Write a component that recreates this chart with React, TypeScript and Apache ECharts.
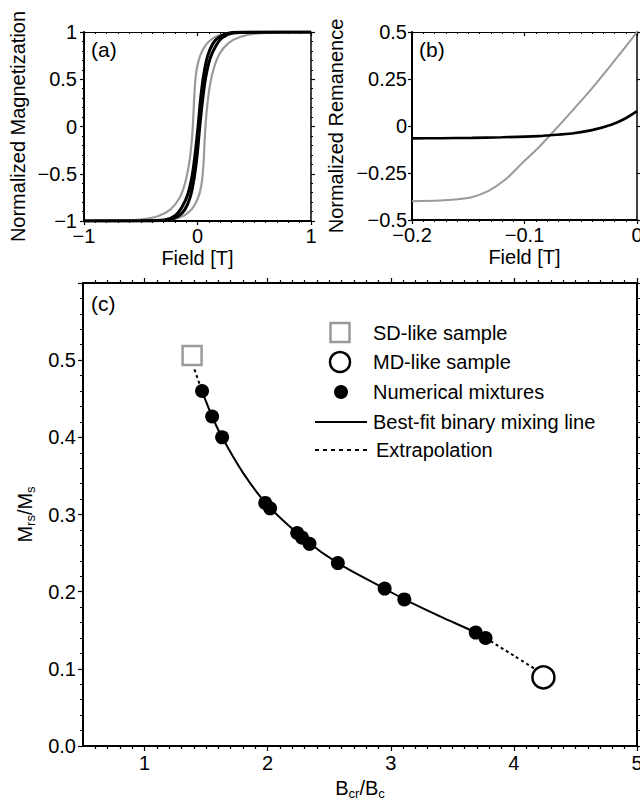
import React, { useEffect, useRef } from 'react';
import * as echarts from 'echarts';

const FONT = '"Liberation Sans", Arial, Helvetica, sans-serif';
const GRAY = '#9a9a9a';

// ---------- Panel (a): hysteresis loops (Field [T], normalized M) ----------
const grayDescending = [
  [-1, -1], [-0.7, -0.997], [-0.5, -0.985], [-0.35, -0.95], [-0.24, -0.88], [-0.16, -0.76],
  [-0.11, -0.6], [-0.075, -0.4], [-0.05, -0.15], [-0.037, 0.1], [-0.027, 0.35], [-0.014, 0.55],
  [0.01, 0.7], [0.05, 0.82], [0.1, 0.9], [0.18, 0.96], [0.3, 0.99], [0.5, 0.998], [1, 1],
];
const grayAscending = [
  [-1, -1], [-0.47, -0.998], [-0.27, -0.99], [-0.15, -0.96], [-0.07, -0.9], [-0.02, -0.82],
  [0.02, -0.7], [0.042, -0.55], [0.055, -0.35], [0.065, -0.1], [0.08, 0.15], [0.105, 0.4],
  [0.14, 0.6], [0.19, 0.76], [0.27, 0.88], [0.38, 0.95], [0.53, 0.985], [0.73, 0.997], [1, 1],
];
const blackDescending = [
  [-1, -1], [-0.5, -0.998], [-0.29, -0.99], [-0.195, -0.94], [-0.135, -0.85], [-0.086, -0.72],
  [-0.047, -0.52], [-0.02, -0.28], [0.005, 0], [0.028, 0.3], [0.055, 0.55], [0.09, 0.75],
  [0.137, 0.88], [0.195, 0.95], [0.28, 0.99], [0.45, 0.999], [1, 1],
];
const blackAscending = [
  [-1, -1], [-0.425, -0.999], [-0.255, -0.99], [-0.17, -0.95], [-0.112, -0.88], [-0.065, -0.75],
  [-0.03, -0.55], [-0.003, -0.3], [0.02, 0], [0.045, 0.28], [0.072, 0.52], [0.111, 0.72],
  [0.16, 0.85], [0.22, 0.94], [0.315, 0.99], [0.525, 0.998], [1, 1],
];

// ---------- Panel (b): remanence curves ----------
const remanenceBlack = [
  [-0.2, -0.066], [-0.175, -0.065], [-0.147, -0.063], [-0.12, -0.06], [-0.0877, -0.054],
  [-0.0773, -0.049], [-0.058, -0.04], [-0.04, -0.022], [-0.0223, 0.008], [-0.0104, 0.04], [0, 0.079],
];
const remanenceGray = [
  [-0.2, -0.4], [-0.175, -0.396], [-0.162, -0.391], [-0.147, -0.379], [-0.132, -0.345],
  [-0.117, -0.285], [-0.1025, -0.2], [-0.0877, -0.116], [-0.0773, -0.049], [-0.058, 0.078],
  [-0.04, 0.2], [-0.0223, 0.33], [-0.011, 0.415], [0, 0.5],
];

// ---------- Panel (c): Day plot style ----------
const sdSample = [[1.386, 0.506]];
const mdSample = [[4.24, 0.089]];
const mixtures = [
  [1.467, 0.46], [1.549, 0.427], [1.63, 0.4], [1.98, 0.315], [2.02, 0.308], [2.24, 0.276],
  [2.28, 0.27], [2.34, 0.262], [2.57, 0.237], [2.95, 0.204], [3.11, 0.19], [3.69, 0.147], [3.77, 0.14],
];
const fitLine = [
  [1.467, 0.46], [1.549, 0.427], [1.63, 0.4], [1.8, 0.354], [2.0, 0.312], [2.3, 0.268],
  [2.57, 0.237], [2.95, 0.204], [3.11, 0.19], [3.4, 0.168], [3.69, 0.147], [3.77, 0.14],
];
const extrapolationSD = [[1.405, 0.488], [1.467, 0.46]];
const extrapolationMD = [[3.77, 0.14], [4.0, 0.117], [4.2, 0.097]];

const xTicksC = [1, 2, 3, 4, 5];
const legendNames = [
  'SD-like sample',
  'MD-like sample',
  'Numerical mixtures',
  'Best-fit binary mixing line',
  'Extrapolation',
];

const minorTicksC: number[] = [];
for (let i = 6; i < 50; i++) if (i % 10 !== 0) minorTicksC.push(i / 10);

const fmt = (v: number) => String(Number(v.toFixed(3))).replace(/-/g, '\u2212');

const TXT = { color: '#000', fontFamily: FONT };

function axis(o: any) {
  return {
    type: 'value',
    gridIndex: o.grid,
    position: o.position,
    min: o.min,
    max: o.max,
    interval: o.interval,
    splitNumber: o.splitNumber,
    splitLine: { show: false },
    axisLine: { show: o.line !== false, onZero: false, lineStyle: { color: '#000', width: o.lineWidth ?? 1.5 } },
    axisTick: {
      show: o.tick !== false,
      inside: !!o.inside,
      length: o.tickLen ?? 4,
      customValues: o.tickValues,
      lineStyle: { color: '#000', width: o.tickWidth ?? 1.2 },
    },
    minorTick: {
      show: !!o.minor,
      splitNumber: o.minor || 5,
      length: o.minorLen ?? 2,
      lineStyle: { color: '#000', width: 1 },
    },
    axisLabel: {
      show: !!o.labels,
      ...TXT,
      fontSize: o.fontSize ?? 20,
      margin: o.margin ?? 6,
      formatter: o.formatter ?? fmt,
      customValues: o.labelValues,
      showMaxLabel: o.showMaxLabel,
      hideOverlap: false,
    },
    name: o.name,
    nameLocation: 'middle',
    nameGap: o.nameGap,
    nameTextStyle: o.nameStyle,
  };
}

const richSub = {
  m: { fontSize: 20, lineHeight: 24, fontFamily: FONT, color: '#000' },
  s: { fontSize: 13, lineHeight: 13, fontFamily: FONT, color: '#000', verticalAlign: 'bottom' },
};

export default function App() {
  const ref = useRef<HTMLDivElement>(null);

  useEffect(() => {
    if (!ref.current) return;
    const chart = echarts.init(ref.current, undefined, { renderer: 'svg' });

    const legendRows = [333, 362, 392, 422, 450];
    const gridBase = { outerBoundsMode: 'none', containLabel: false };

    const option: any = {
      animation: false,
      backgroundColor: '#fff',
      grid: [
        { ...gridBase, left: 84, top: 32, width: 227, height: 189 },
        { ...gridBase, left: 412, top: 32, width: 225, height: 188 },
        { ...gridBase, left: 83, top: 283, width: 554, height: 463 },
      ],
      xAxis: [
        axis({ grid: 0, position: 'bottom', min: -1, max: 1, interval: 1, lineWidth: 2, minor: 10, labels: true, margin: 5,
          name: 'Field [T]', nameGap: 27, nameStyle: { ...TXT, fontSize: 20 } }),
        axis({ grid: 0, position: 'top', min: -1, max: 1, interval: 1, lineWidth: 1.2, minor: 10, inside: true }),
        axis({ grid: 1, position: 'bottom', min: -0.2, max: 0, interval: 0.1, lineWidth: 2, minor: 10, labels: true, margin: 5,
          name: 'Field [T]', nameGap: 27, nameStyle: { ...TXT, fontSize: 20 } }),
        axis({ grid: 1, position: 'top', min: -0.2, max: 0, interval: 0.1, lineWidth: 1.2, minor: 10, inside: true }),
        axis({ grid: 2, position: 'bottom', min: 0.5, max: 5, splitNumber: 5, lineWidth: 2, tickLen: 5, labels: true, margin: 7,
          tickValues: xTicksC, labelValues: xTicksC,
          name: '{m|B}{s|cr}{m|/B}{s|c}', nameGap: 29, nameStyle: { rich: richSub } }),
        axis({ grid: 2, position: 'bottom', min: 0.5, max: 5, splitNumber: 5, line: false, tickLen: 3, tickValues: minorTicksC }),
        axis({ grid: 2, position: 'top', min: 0.5, max: 5, splitNumber: 5, lineWidth: 2, tickLen: 5, tickValues: xTicksC }),
        axis({ grid: 2, position: 'top', min: 0.5, max: 5, splitNumber: 5, line: false, tickLen: 3, tickValues: minorTicksC }),
      ],
      yAxis: [
        axis({ grid: 0, position: 'left', min: -1, max: 1, interval: 0.5, lineWidth: 2, minor: 5, labels: true, margin: 7,
          name: 'Normalized Magnetization', nameGap: 56, nameStyle: { ...TXT, fontSize: 20 } }),
        axis({ grid: 0, position: 'right', min: -1, max: 1, interval: 0.5, lineWidth: 1.5, minor: 5 }),
        axis({ grid: 1, position: 'left', min: -0.5, max: 0.5, interval: 0.25, lineWidth: 2, labels: true, margin: 5,
          name: 'Normalized Remanence', nameGap: 66, nameStyle: { ...TXT, fontSize: 20 } }),
        axis({ grid: 1, position: 'right', min: -0.5, max: 0.5, interval: 0.25, lineWidth: 1.5 }),
        axis({ grid: 2, position: 'left', min: 0, max: 0.6, interval: 0.1, lineWidth: 2, minor: 5, tickLen: 5, minorLen: 3,
          labels: true, margin: 7, showMaxLabel: false, formatter: (v: number) => v.toFixed(1),
          name: '{m|M}{s|rs}{m|/M}{s|s}', nameGap: 44, nameStyle: { rich: richSub } }),
        axis({ grid: 2, position: 'right', min: 0, max: 0.6, interval: 0.1, lineWidth: 2, minor: 5, tickLen: 5, minorLen: 3 }),
      ],
      series: [
        { type: 'line', name: 'gray desc', xAxisIndex: 0, yAxisIndex: 0, data: grayDescending, symbol: 'none',
          smooth: 0.3, lineStyle: { color: GRAY, width: 2.2 } },
        { type: 'line', name: 'gray asc', xAxisIndex: 0, yAxisIndex: 0, data: grayAscending, symbol: 'none',
          smooth: 0.3, lineStyle: { color: GRAY, width: 2.2 } },
        { type: 'line', name: 'black desc', xAxisIndex: 0, yAxisIndex: 0, data: blackDescending, symbol: 'none',
          smooth: 0.3, lineStyle: { color: '#000', width: 3 } },
        { type: 'line', name: 'black asc', xAxisIndex: 0, yAxisIndex: 0, data: blackAscending, symbol: 'none',
          smooth: 0.3, lineStyle: { color: '#000', width: 3 } },

        { type: 'line', name: 'rem gray', xAxisIndex: 2, yAxisIndex: 2, data: remanenceGray, symbol: 'none',
          smooth: 0.3, lineStyle: { color: GRAY, width: 2 } },
        { type: 'line', name: 'rem black', xAxisIndex: 2, yAxisIndex: 2, data: remanenceBlack, symbol: 'none',
          smooth: 0.3, lineStyle: { color: '#000', width: 2.6 } },

        { type: 'line', name: legendNames[3], xAxisIndex: 4, yAxisIndex: 4, data: fitLine, symbol: 'none',
          smooth: 0.3, lineStyle: { color: '#000', width: 2 } },
        { type: 'line', name: legendNames[4] + ' SD', xAxisIndex: 4, yAxisIndex: 4, data: extrapolationSD, symbol: 'none',
          lineStyle: { color: '#000', width: 2, type: [3, 3] } },
        { type: 'line', name: legendNames[4] + ' MD', xAxisIndex: 4, yAxisIndex: 4, data: extrapolationMD, symbol: 'none',
          smooth: 0.3, lineStyle: { color: '#000', width: 2, type: [3, 3] } },
        { type: 'scatter', name: legendNames[2], xAxisIndex: 4, yAxisIndex: 4, data: mixtures, symbol: 'circle',
          symbolSize: 14, itemStyle: { color: '#000', opacity: 1 }, z: 5 },
        { type: 'scatter', name: legendNames[0], xAxisIndex: 4, yAxisIndex: 4, data: sdSample, symbol: 'rect',
          symbolSize: 19, itemStyle: { color: 'rgba(255,255,255,0)', borderColor: GRAY, borderWidth: 2.5, opacity: 1 }, z: 5 },
        { type: 'scatter', name: legendNames[1], xAxisIndex: 4, yAxisIndex: 4, data: mdSample, symbol: 'circle',
          symbolSize: 22, itemStyle: { color: '#fff', borderColor: '#000', borderWidth: 2.5, opacity: 1 }, z: 5 },
      ],
      graphic: [
        { type: 'text', left: 91, top: 39, style: { text: '(a)', font: `21px ${FONT}`, fill: '#000' } },
        { type: 'text', left: 419, top: 39, style: { text: '(b)', font: `21px ${FONT}`, fill: '#000' } },
        { type: 'text', left: 91, top: 293, style: { text: '(c)', font: `21px ${FONT}`, fill: '#000' } },

        { type: 'rect', shape: { x: 330.5, y: legendRows[0] - 10, width: 19, height: 19 },
          style: { fill: 'none', stroke: GRAY, lineWidth: 2.5 } },
        { type: 'circle', shape: { cx: 340, cy: legendRows[1], r: 10 },
          style: { fill: '#fff', stroke: '#000', lineWidth: 2.5 } },
        { type: 'circle', shape: { cx: 341, cy: legendRows[2], r: 7 }, style: { fill: '#000' } },
        { type: 'line', shape: { x1: 315, y1: legendRows[3], x2: 367, y2: legendRows[3] },
          style: { stroke: '#000', lineWidth: 2 } },
        { type: 'line', shape: { x1: 315, y1: legendRows[4], x2: 367, y2: legendRows[4] },
          style: { stroke: '#000', lineWidth: 2, lineDash: [4, 4] } },
        ...legendNames.map((t, i) => ({
          type: 'text', x: i === 4 ? 376 : 373, y: legendRows[i],
          style: { text: t, font: `20px ${FONT}`, fill: '#000', verticalAlign: 'middle', align: 'left' },
        })),
      ],
    };

    chart.setOption(option);
    return () => chart.dispose();
  }, []);

  return (
    <div
      ref={ref}
      style={{ position: 'fixed', left: 0, top: 0, width: 640, height: 802, background: '#fff' }}
    />
  );
}
